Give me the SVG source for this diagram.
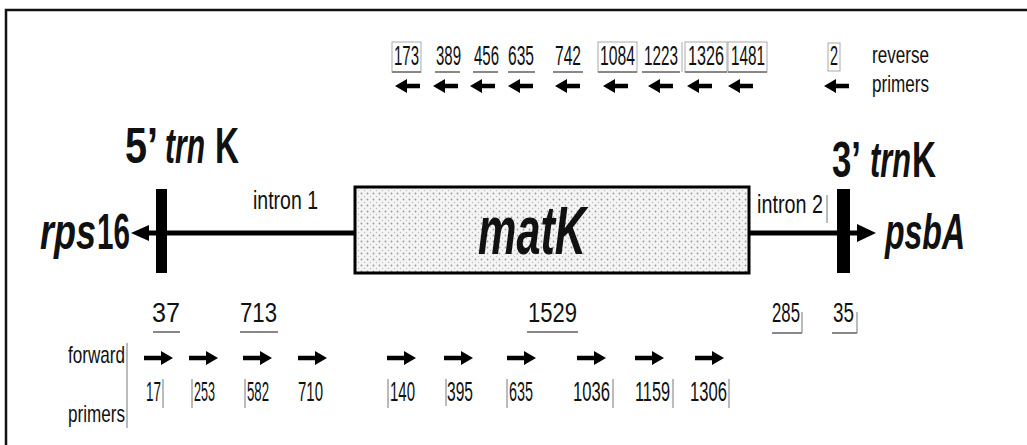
<svg xmlns="http://www.w3.org/2000/svg" xmlns:xlink="http://www.w3.org/1999/xlink" width="1027" height="445" viewBox="0 0 1027 445">
<style>
text{font-family:"Liberation Sans",Arial,sans-serif;fill:#111}
.big{font-size:50px;font-weight:bold}
.it{font-style:italic}
.mid{font-size:25px}
.num{font-size:28px}
.lab{font-size:24px}
.sm{font-size:27px}
.ul{stroke:#888;stroke-width:2;fill:none}
.bx{stroke:#aaa;stroke-width:1;fill:none}
.bar{stroke:#777;stroke-width:1}
</style>
<defs>
<pattern id="stip" width="6" height="6" patternUnits="userSpaceOnUse">
<rect width="6" height="6" fill="#f4f4f4"/>
<circle cx="1.5" cy="1.5" r="0.9" fill="#9a9a9a"/>
<circle cx="4.5" cy="4.5" r="0.7" fill="#bbb"/>
</pattern>
<path id="la" d="M0,0 L12,-7 L12,-2.2 L25,-2.2 L25,2.2 L12,2.2 L12,7 Z" fill="#000"/>
<path id="ra" d="M29,0 L17,-7 L17,-2.2 L0,-2.2 L0,2.2 L17,2.2 L17,7 Z" fill="#000"/>
</defs>
<rect width="1027" height="445" fill="#fff"/>
<path d="M6,445 V10 H1027" stroke="#111" stroke-width="2.5" fill="none"/>

<g id="connectors">
<line x1="146" y1="233" x2="356" y2="233" stroke="#000" stroke-width="5"/>
<path d="M131,233 L149,225 L149,241 Z" fill="#000"/>
<line x1="748" y1="233" x2="860" y2="233" stroke="#000" stroke-width="5"/>
<path d="M876,233 L857,224 L857,242 Z" fill="#000"/>
</g>

<g id="trnK5">
<rect x="156" y="189" width="11" height="84" fill="#000"/>
<text class="big" x="125" y="163" textLength="33" lengthAdjust="spacingAndGlyphs">5’</text>
<text class="big it" x="165" y="163" textLength="40" lengthAdjust="spacingAndGlyphs">trn</text>
<text class="big" x="215" y="163" textLength="24" lengthAdjust="spacingAndGlyphs">K</text>
</g>
<g id="trnK3">
<rect x="837" y="189" width="13" height="84" fill="#000"/>
<text class="big" x="832" y="177" textLength="29" lengthAdjust="spacingAndGlyphs">3’</text>
<text class="big it" x="870" y="177" textLength="41" lengthAdjust="spacingAndGlyphs">trn</text>
<text class="big" x="912" y="177" textLength="24" lengthAdjust="spacingAndGlyphs">K</text>
</g>
<g id="rps16">
<text class="big it" x="40" y="249" textLength="56" lengthAdjust="spacingAndGlyphs">rps</text>
<text class="big" x="97" y="249" textLength="33" lengthAdjust="spacingAndGlyphs">16</text>
</g>
<g id="psbA">
<text class="big it" x="885" y="249" textLength="80" lengthAdjust="spacingAndGlyphs">psbA</text>
</g>
<g id="matK">
<rect x="355" y="187" width="394" height="86" fill="url(#stip)" stroke="#000" stroke-width="3"/>
<text x="478" y="254" font-size="68" font-weight="bold" font-style="italic" textLength="108" lengthAdjust="spacingAndGlyphs">matK</text>
</g>
<g id="intron1">
<text class="mid" x="253" y="209" textLength="65" lengthAdjust="spacingAndGlyphs">intron 1</text>
</g>
<g id="intron2">
<text class="mid" x="757" y="213" textLength="66" lengthAdjust="spacingAndGlyphs">intron 2</text>
<line class="bar" x1="827" y1="195" x2="827" y2="223"/>
</g>

<g id="reverse-primers">
<rect class="bx" x="392" y="42" width="29" height="30"/>
<rect class="bx" x="598" y="42" width="39" height="30"/>
<line class="bx" x1="682" y1="42" x2="682" y2="72"/>
<rect class="bx" x="685" y="42" width="42" height="30"/>
<rect class="bx" x="728" y="42" width="39" height="30"/>
<g class="ul">
<line x1="392" y1="72" x2="421" y2="72"/>
<line x1="435" y1="72" x2="460" y2="72"/>
<line x1="473" y1="72" x2="498" y2="72"/>
<line x1="508" y1="72" x2="535" y2="72"/>
<line x1="553" y1="72" x2="583" y2="72"/>
<line x1="598" y1="72" x2="637" y2="72"/>
<line x1="642" y1="72" x2="680" y2="72"/>
<line x1="685" y1="72" x2="727" y2="72"/>
<line x1="728" y1="72" x2="767" y2="72"/>
</g>
<text class="num" x="394" y="65" textLength="25" lengthAdjust="spacingAndGlyphs">173</text>
<text class="num" x="436" y="65" textLength="25" lengthAdjust="spacingAndGlyphs">389</text>
<text class="num" x="474" y="65" textLength="25" lengthAdjust="spacingAndGlyphs">456</text>
<text class="num" x="508" y="65" textLength="26" lengthAdjust="spacingAndGlyphs">635</text>
<text class="num" x="555" y="65" textLength="26" lengthAdjust="spacingAndGlyphs">742</text>
<text class="num" x="600" y="65" textLength="35" lengthAdjust="spacingAndGlyphs">1084</text>
<text class="num" x="644" y="65" textLength="34" lengthAdjust="spacingAndGlyphs">1223</text>
<text class="num" x="688" y="65" textLength="36" lengthAdjust="spacingAndGlyphs">1326</text>
<text class="num" x="731" y="65" textLength="34" lengthAdjust="spacingAndGlyphs">1481</text>
<rect class="bx" x="828" y="43" width="12" height="28"/>
<text class="num" x="830" y="65" textLength="8" lengthAdjust="spacingAndGlyphs">2</text>
<use xlink:href="#la" x="395" y="86"/>
<use xlink:href="#la" x="433" y="86"/>
<use xlink:href="#la" x="470" y="86"/>
<use xlink:href="#la" x="508" y="86"/>
<use xlink:href="#la" x="555" y="86"/>
<use xlink:href="#la" x="603" y="86"/>
<use xlink:href="#la" x="648" y="86"/>
<use xlink:href="#la" x="687" y="86"/>
<use xlink:href="#la" x="728" y="86"/>
<use xlink:href="#la" x="824" y="86"/>
<text class="lab" x="872" y="63" textLength="57" lengthAdjust="spacingAndGlyphs">reverse</text>
<text class="lab" x="872" y="92" textLength="57" lengthAdjust="spacingAndGlyphs">primers</text>
</g>

<g id="forward-primers">
<g class="ul">
<line x1="153" y1="332" x2="180" y2="332"/>
<line x1="240" y1="332" x2="278" y2="332"/>
<line x1="527" y1="332" x2="578" y2="332"/>
<line x1="772" y1="333" x2="802" y2="333"/>
<line x1="832" y1="333" x2="857" y2="333"/>
</g>
<line class="bar" x1="802" y1="312" x2="802" y2="333"/>
<line class="bar" x1="857" y1="312" x2="857" y2="333"/>
<text class="sm" x="152" y="322" textLength="28" lengthAdjust="spacingAndGlyphs">37</text>
<text class="sm" x="240" y="322" textLength="37" lengthAdjust="spacingAndGlyphs">713</text>
<text class="sm" x="528" y="322" textLength="49" lengthAdjust="spacingAndGlyphs">1529</text>
<text class="sm" x="772" y="322" textLength="28" lengthAdjust="spacingAndGlyphs">285</text>
<text class="sm" x="833" y="322" textLength="21" lengthAdjust="spacingAndGlyphs">35</text>
<use xlink:href="#ra" x="144" y="358"/>
<use xlink:href="#ra" x="189" y="358"/>
<use xlink:href="#ra" x="243" y="358"/>
<use xlink:href="#ra" x="298" y="358"/>
<use xlink:href="#ra" x="387" y="358"/>
<use xlink:href="#ra" x="444" y="358"/>
<use xlink:href="#ra" x="507" y="358"/>
<use xlink:href="#ra" x="577" y="358"/>
<use xlink:href="#ra" x="635" y="358"/>
<use xlink:href="#ra" x="695" y="358"/>
<g class="num">
<text x="146" y="401" textLength="15" lengthAdjust="spacingAndGlyphs">17</text>
<text x="194" y="401" textLength="21" lengthAdjust="spacingAndGlyphs">253</text>
<text x="247" y="401" textLength="22" lengthAdjust="spacingAndGlyphs">582</text>
<text x="298" y="401" textLength="25" lengthAdjust="spacingAndGlyphs">710</text>
<text x="390" y="401" textLength="25" lengthAdjust="spacingAndGlyphs">140</text>
<text x="447" y="401" textLength="26" lengthAdjust="spacingAndGlyphs">395</text>
<text x="509" y="401" textLength="24" lengthAdjust="spacingAndGlyphs">635</text>
<text x="573" y="401" textLength="37" lengthAdjust="spacingAndGlyphs">1036</text>
<text x="635" y="401" textLength="35" lengthAdjust="spacingAndGlyphs">1159</text>
<text x="690" y="401" textLength="37" lengthAdjust="spacingAndGlyphs">1306</text>
</g>
<g class="bar">
<line x1="163" y1="379" x2="163" y2="408"/>
<line x1="192" y1="379" x2="192" y2="408"/>
<line x1="245" y1="379" x2="245" y2="408"/>
<line x1="388" y1="379" x2="388" y2="408"/>
<line x1="446" y1="379" x2="446" y2="406"/>
<line x1="507" y1="379" x2="507" y2="408"/>
<line x1="613" y1="379" x2="613" y2="408"/>
<line x1="673" y1="379" x2="673" y2="408"/>
<line x1="729" y1="379" x2="729" y2="408"/>
</g>
<text class="lab" x="68" y="363" textLength="57" lengthAdjust="spacingAndGlyphs">forward</text>
<text class="lab" x="68" y="422" textLength="57" lengthAdjust="spacingAndGlyphs">primers</text>
<line class="bar" x1="127" y1="343" x2="127" y2="428"/>
</g>
</svg>
